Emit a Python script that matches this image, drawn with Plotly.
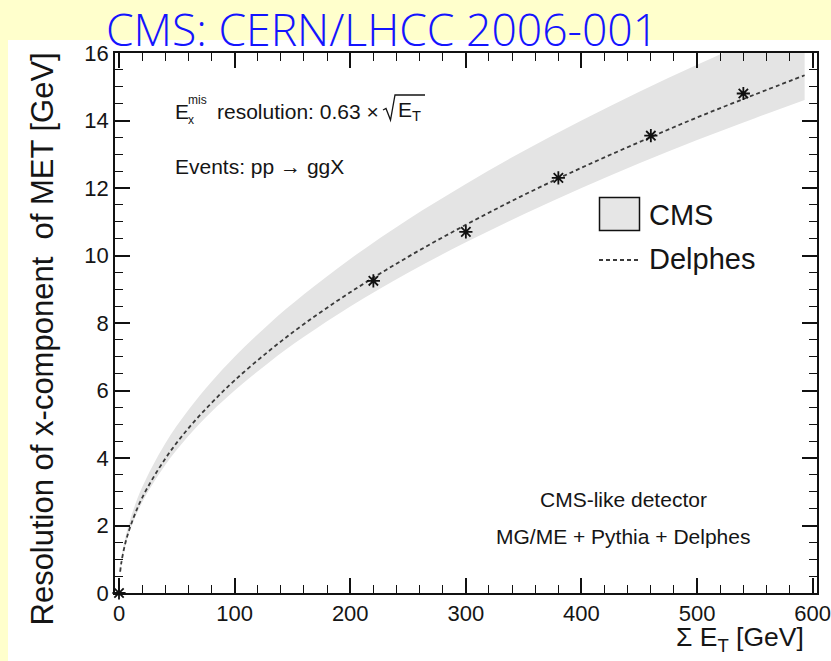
import plotly.graph_objects as go

# Sum E_T values [GeV] at which the curves are sampled
et_grid = [0, 2, 5, 10, 20, 40, 60, 80, 100, 130, 160, 200, 250, 300, 350, 400, 450, 500, 550, 593]
# CMS resolution band (lower / upper edge) [GeV]
cms_low = [0, 0.85, 1.34, 1.90, 2.68, 3.79, 4.65, 5.37, 6.00, 6.84, 7.59, 8.49, 9.49, 10.39, 11.22, 12.00, 12.73, 13.42, 14.07, 14.61]
cms_high = [0, 0.99, 1.57, 2.21, 3.13, 4.43, 5.42, 6.26, 7.00, 7.98, 8.85, 9.90, 11.07, 12.12, 13.10, 14.00, 14.85, 15.65, 16.42, 17.05]

# Delphes resolution curve
delphes_et = [1, 2, 5, 10, 20, 40, 60, 80, 100, 130, 160, 200, 250, 300, 350, 400, 450, 500, 550, 593]
delphes_sigma = [0.63, 0.89, 1.41, 1.99, 2.82, 3.98, 4.88, 5.63, 6.30, 7.18, 7.97, 8.91, 9.96, 10.91, 11.79, 12.60, 13.36, 14.09, 14.77, 15.34]

# Simulated points
pt_et = [0, 220, 300, 380, 460, 540]
pt_sigma = [0, 9.25, 10.7, 12.3, 13.55, 14.8]

x_ticks = [0, 100, 200, 300, 400, 500, 600]
y_ticks = [0, 2, 4, 6, 8, 10, 12, 14, 16]

W_FIG, H_FIG = 831, 661
L, R, T, B = 115, 817, 53, 593
PW, PH = R - L, B - T


def px(xp):
    return (xp - L) / PW


def py(yp):
    return (B - yp) / PH


TXT = "#151515"
FONT = "Liberation Sans, Arial, sans-serif"

fig = go.Figure()

fig.add_trace(go.Scatter(x=et_grid, y=cms_low, mode="lines", line=dict(width=0, shape="spline"),
                         hoverinfo="skip", showlegend=False))
fig.add_trace(go.Scatter(x=et_grid, y=cms_high, mode="lines", line=dict(width=0, shape="spline"),
                         fill="tonexty", fillcolor="#e4e4e4", name="CMS", showlegend=False))
fig.add_trace(go.Scatter(x=delphes_et, y=delphes_sigma, mode="lines",
                         line=dict(color="#3a3a3a", width=1.8, dash="4px,3px", shape="spline"),
                         name="Delphes", showlegend=False))
fig.add_trace(go.Scatter(x=pt_et, y=pt_sigma, mode="markers",
                         marker=dict(symbol="asterisk-open", size=11, color="#111111",
                                     line=dict(color="#111111", width=1.8)),
                         showlegend=False, cliponaxis=False))

axis_common = dict(
    showline=True, linecolor="#111111", linewidth=1.5, mirror="allticks",
    ticks="inside", ticklen=15, tickwidth=1.5, tickcolor="#111111",
    showgrid=False, zeroline=False, ticklabeloverflow="allow", automargin=False,
    tickfont=dict(family=FONT, size=22, color=TXT),
)

fig.update_xaxes(range=[-3.46, 603.7], tickvals=x_ticks, ticktext=[str(v) for v in x_ticks],
                 minor=dict(dtick=20, tick0=0, ticks="inside", ticklen=8, tickwidth=1.3, tickcolor="#111111"),
                 **axis_common)
fig.update_yaxes(range=[0, 16], tickvals=y_ticks, ticktext=[str(v) for v in y_ticks],
                 minor=dict(dtick=0.5, tick0=0, ticks="inside", ticklen=8, tickwidth=1.3, tickcolor="#111111"),
                 **axis_common)


def path(points):
    return "M " + " L ".join(f"{px(a)},{py(b)}" for a, b in points)


shapes = [
    # white panel behind the figure
    dict(type="rect", xref="paper", yref="paper", x0=px(8), x1=px(831), y0=py(661), y1=py(40),
         fillcolor="white", line=dict(width=0), layer="below"),
    # legend swatches
    dict(type="rect", xref="paper", yref="paper", x0=px(599.5), x1=px(639.5), y0=py(230.5), y1=py(197.5),
         fillcolor="#e6e6e6", line=dict(color="#111111", width=1.5)),
    dict(type="line", xref="paper", yref="paper", x0=px(599), x1=px(640), y0=py(260), y1=py(260),
         line=dict(color="#3a3a3a", width=1.8, dash="4px,3px")),
    # square-root sign with its overline
    dict(type="path", xref="paper", yref="paper",
         path=path([(383, 110), (386, 108.5), (390.5, 120), (395, 95), (425, 95)]),
         line=dict(color=TXT, width=1.3)),
]

ann = []


def text(x, y, s, size, xanchor="left", yanchor="middle", color=TXT, family=FONT, angle=0, **kw):
    ann.append(dict(x=px(x), y=py(y), xref="paper", yref="paper", text=s, showarrow=False,
                    xanchor=xanchor, yanchor=yanchor, textangle=angle,
                    font=dict(family=family, size=size, color=color, **kw)))


# header
text(104, 29, "CMS: CERN/LHCC 2006-001", 44.5, color="#1414ff", family="Open Sans", weight=300)

# axis titles
text(42, 51, "Resolution of x-component  of MET [GeV]", 31, xanchor="center", yanchor="top", angle=-90)
text(806, 639, "Σ E<sub>T</sub> [GeV]", 26.5, xanchor="right")

# formula label
text(173, 111, "E", 21)
text(186, 100, "mis", 12)
text(186, 120, "x", 12)
text(215, 111, "resolution: 0.63 ×", 21)
text(396, 111, "E<sub>T</sub>", 21)
text(173, 166, "Events: pp → ggX", 21)

# legend labels
text(647, 215, "CMS", 29)
text(647, 259, "Delphes", 29)

# generator info
text(623, 500, "CMS-like detector", 21, xanchor="center")
text(623, 536, "MG/ME + Pythia + Delphes", 21, xanchor="center")

fig.update_layout(
    width=W_FIG, height=H_FIG,
    margin=dict(l=L, r=W_FIG - R, t=T, b=H_FIG - B),
    paper_bgcolor="#ffffcc", plot_bgcolor="white",
    shapes=shapes, annotations=ann, showlegend=False,
)

fig.write_html("out.html")
